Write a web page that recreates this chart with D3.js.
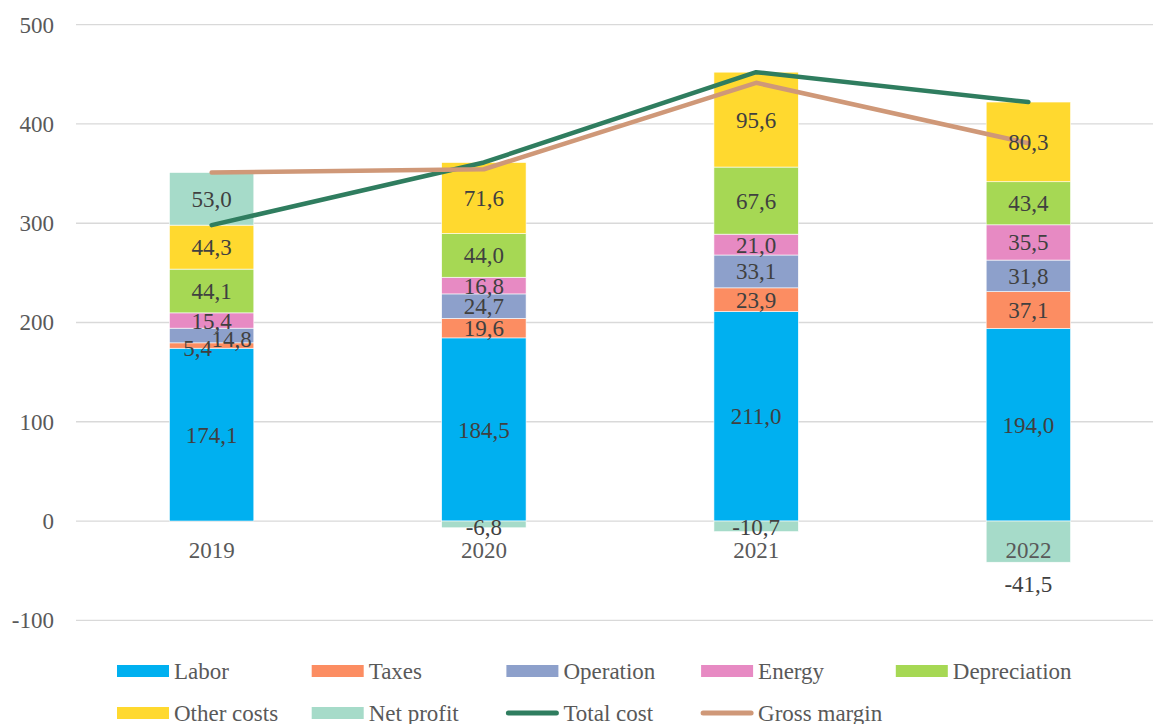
<!DOCTYPE html>
<html>
  <head>
    <meta charset="utf-8">
    <title>Cost structure</title>
    <script src="https://cdn.jsdelivr.net/npm/d3@7"></script>
	<style>
		body { margin:0; background:#fff; }
		text { font-family:"Liberation Serif", "Times New Roman", serif; }
	</style>
  </head>
  <body>
	<svg></svg>
    <script>
	// data
	var years = ["2019", "2020", "2021", "2022"];
	var seriesNames = ["Labor", "Taxes", "Operation", "Energy", "Depreciation", "Other costs", "Net profit"];
	var labor = [174.1, 184.5, 211.0, 194.0];
	var taxes = [5.4, 19.6, 23.9, 37.1];
	var operation = [14.8, 24.7, 33.1, 31.8];
	var energy = [15.4, 16.8, 21.0, 35.5];
	var depreciation = [44.1, 44.0, 67.6, 43.4];
	var otherCosts = [44.3, 71.6, 95.6, 80.3];
	var netProfit = [53.0, -6.8, -10.7, -41.5];
	var totalCost = [298.1, 361.2, 452.2, 422.1];
	var grossMargin = [351.1, 354.4, 441.5, 380.6];
	var yTicks = [-100, 0, 100, 200, 300, 400, 500];

	var colours = ["#00b0f0", "#fc8d62", "#8da0cb", "#e78ac3", "#a6d854", "#ffd92f", "#a6dbc9"];
	var lineColours = {"Total cost": "#2f7d5f", "Gross margin": "#cf9878"};

	var width = 1153, height = 724;
	var svg = d3.select("svg").attr("width", width).attr("height", height);

	var x = d3.scaleBand().domain(years).range([75.5, 1164.5]).paddingInner(0.69).paddingOuter(0.345);
	var y = d3.scaleLinear().domain([-100, 500]).range([620.3, 24.7]);

	// hyphen minus like the original, not the unicode one
	var fmtInt = function(v){ return String(v); };
	var fmt = function(v){ return v.toFixed(1).replace(".", ","); };

	// gridlines
	svg.append("g").selectAll("line").data(yTicks).enter().append("line")
		.attr("x1", 76).attr("x2", width)
		.attr("y1", function(d){ return y(d); }).attr("y2", function(d){ return y(d); })
		.attr("stroke", "#d9d9d9").attr("stroke-width", 1.3);

	// y axis labels
	var yAxis = d3.axisLeft(y).tickValues(yTicks).tickSize(0).tickPadding(0).tickFormat(fmtInt);
	svg.append("g").attr("transform", "translate(54,0)").call(yAxis)
		.call(function(g){ g.select(".domain").remove(); })
		.selectAll("text").attr("font-size", 23).attr("fill", "#595959");

	// stacked rows
	var rows = years.map(function(yr, i){
		return {year: yr, Labor: labor[i], Taxes: taxes[i], Operation: operation[i], Energy: energy[i],
			Depreciation: depreciation[i], "Other costs": otherCosts[i], "Net profit": netProfit[i]};
	});
	var stack = d3.stack().keys(seriesNames).offset(d3.stackOffsetDiverging)(rows);

	// small manual nudges for crowded labels [dx, dy]
	var nudge = {"Taxes-2019": [-14, 2], "Operation-2019": [20, 3], "Net profit-2020": [0, 3],
		"Net profit-2021": [0, 1], "Net profit-2022": [0, 42]};
	var bw = x.bandwidth();

	var layer = svg.append("g").selectAll("g").data(stack).enter().append("g")
		.attr("fill", function(d, i){ return colours[i]; });

	layer.selectAll("rect").data(function(d){ return d; }).enter().append("rect")
		.attr("x", function(d){ return x(d.data.year); })
		.attr("width", bw)
		.attr("y", function(d){ return y(d[1]); })
		.attr("height", function(d){ return y(d[0]) - y(d[1]); })
		.attr("stroke", "#fff").attr("stroke-width", 0.6);

	// x axis labels
	svg.append("g").selectAll("text").data(years).enter().append("text")
		.attr("x", function(d){ return x(d) + bw / 2; })
		.attr("y", 550).attr("dy", "0.35em")
		.attr("text-anchor", "middle").attr("font-size", 23).attr("fill", "#595959")
		.text(function(d){ return d; });

	// lines
	var lineGen = d3.line()
		.x(function(d, i){ return x(years[i]) + bw / 2; })
		.y(function(d){ return y(d); });
	[["Total cost", totalCost], ["Gross margin", grossMargin]].forEach(function(s){
		svg.append("path").datum(s[1]).attr("d", lineGen)
			.attr("fill", "none").attr("stroke", lineColours[s[0]])
			.attr("stroke-width", 4.5).attr("stroke-linecap", "round").attr("stroke-linejoin", "round");
	});

	// data labels
	stack.forEach(function(series){
		svg.append("g").selectAll("text").data(series).enter().append("text")
			.attr("x", function(d){
				var n = nudge[series.key + "-" + d.data.year];
				return x(d.data.year) + bw / 2 + (n ? n[0] : 0);
			})
			.attr("y", function(d){
				var n = nudge[series.key + "-" + d.data.year];
				return (y(d[0]) + y(d[1])) / 2 + (n ? n[1] : 0);
			})
			.attr("dy", "0.35em").attr("text-anchor", "middle")
			.attr("font-size", 23).attr("fill", "#404040")
			.text(function(d){ return fmt(d.data[series.key]); });
	});

	// legend
	var legendItems = seriesNames.map(function(n, i){ return {name: n, colour: colours[i], line: false}; })
		.concat([{name: "Total cost", colour: lineColours["Total cost"], line: true},
		         {name: "Gross margin", colour: lineColours["Gross margin"], line: true}]);
	var leg = svg.append("g").selectAll("g").data(legendItems).enter().append("g")
		.attr("transform", function(d, i){
			return "translate(" + (117 + (i % 5) * 194.7) + "," + (671 + Math.floor(i / 5) * 42) + ")";
		});
	leg.filter(function(d){ return !d.line; }).append("rect")
		.attr("x", 0).attr("y", -6).attr("width", 52).attr("height", 12)
		.attr("fill", function(d){ return d.colour; });
	leg.filter(function(d){ return d.line; }).append("line")
		.attr("x1", 2).attr("x2", 50).attr("y1", 0).attr("y2", 0)
		.attr("stroke", function(d){ return d.colour; }).attr("stroke-width", 5).attr("stroke-linecap", "round");
	leg.append("text").attr("x", 57).attr("dy", "0.35em")
		.attr("font-size", 23).attr("fill", "#595959")
		.text(function(d){ return d.name; });
    </script>
  </body>
</html>
